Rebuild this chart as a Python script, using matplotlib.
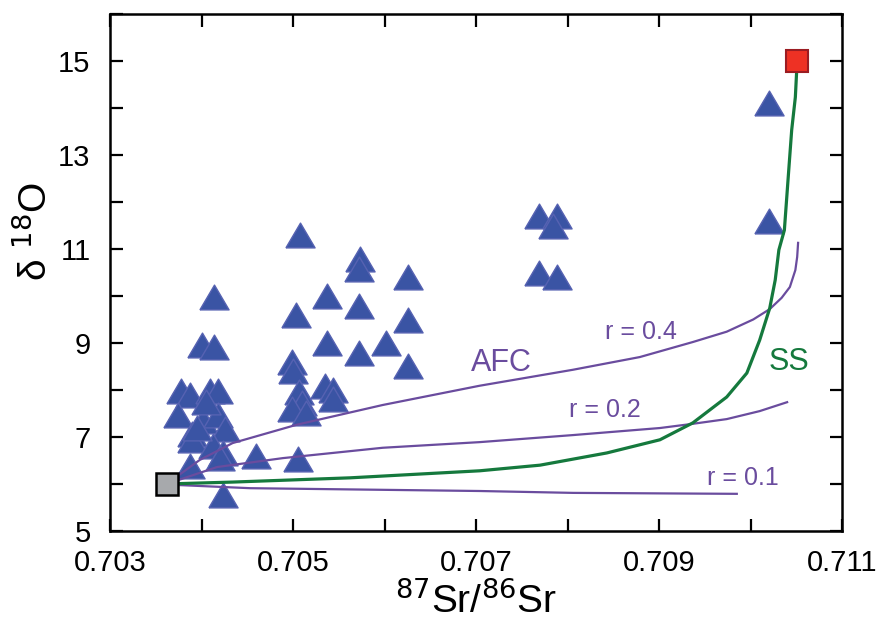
import matplotlib
matplotlib.use("Agg")
from matplotlib import pyplot as plt
from matplotlib.ticker import MultipleLocator

plt.rcParams['font.family'] = ['Liberation Sans', 'DejaVu Sans']

# samples (87Sr/86Sr, d18O)
sample_x = [0.70414, 0.70400, 0.70414, 0.70378, 0.70387, 0.70409, 0.70418,
            0.70374, 0.70402, 0.70418, 0.70390, 0.70426, 0.70390, 0.70413,
            0.70424, 0.70387, 0.70424, 0.70460, 0.70405, 0.70395, 0.70420,
            0.70508, 0.70573, 0.70572, 0.70626, 0.70537, 0.70572, 0.70503,
            0.70626, 0.70537, 0.70572, 0.70602, 0.70626, 0.70499, 0.70500,
            0.70535, 0.70544, 0.70544, 0.70507, 0.70510, 0.70499, 0.70514,
            0.70505,
            0.70769, 0.70789, 0.70784, 0.70769, 0.70789, 0.71020, 0.71020]
sample_y = [9.98, 8.96, 8.92, 7.98, 7.89, 7.98, 7.98,
            7.47, 7.35, 7.47, 7.06, 7.17, 6.94, 6.81,
            6.66, 6.38, 5.77, 6.60, 7.75, 7.20, 6.55,
            11.30, 10.79, 10.57, 10.40, 10.00, 9.79, 9.60,
            9.49, 9.00, 8.79, 9.00, 8.50, 8.60, 8.40,
            8.09, 8.00, 7.80, 7.96, 7.72, 7.60, 7.51,
            6.53,
            11.70, 11.70, 11.49, 10.49, 10.40, 14.10, 11.60]

# end members
mantle = (0.70362, 6.0)
crust = (0.71051, 15.0)

# AFC curves
afc04_x = [0.70362, 0.70371, 0.70398, 0.70434, 0.70504, 0.70598, 0.70704,
           0.70806, 0.70879, 0.70937, 0.70974, 0.71003, 0.71021, 0.71034,
           0.71043, 0.71049, 0.71051, 0.71052]
afc04_y = [6.0, 6.13, 6.51, 6.87, 7.26, 7.68, 8.09,
           8.43, 8.70, 9.02, 9.24, 9.50, 9.72, 9.96,
           10.19, 10.55, 10.83, 11.13]
afc02_x = [0.70362, 0.70417, 0.70489, 0.70598, 0.70704, 0.70806, 0.70901,
           0.70937, 0.70974, 0.71010, 0.71040]
afc02_y = [6.0, 6.36, 6.55, 6.77, 6.89, 7.04, 7.19,
           7.28, 7.38, 7.55, 7.74]
afc01_x = [0.70362, 0.70371, 0.70453, 0.70704, 0.70806, 0.70985]
afc01_y = [6.0, 5.98, 5.91, 5.85, 5.81, 5.79]

# simple source mixing curve
ss_x = [0.70362, 0.70434, 0.70562, 0.70704, 0.70770, 0.70843, 0.70901, 0.70937,
        0.70974, 0.70996, 0.71010, 0.71021, 0.71027, 0.71031, 0.71037,
        0.71041, 0.71045, 0.71049, 0.71051]
ss_y = [6.0, 6.04, 6.13, 6.28, 6.40, 6.66, 6.94, 7.30,
        7.85, 8.36, 9.06, 9.74, 10.34, 10.98, 11.40,
        12.47, 13.53, 14.23, 15.0]

purple = '#6a4c9e'
green = '#15793d'

fig = plt.figure(figsize=(8.76, 6.21), dpi=100)
ax = fig.add_axes([0.1256, 0.145, 0.8356, 0.8325])

tri = [(-1, -0.85), (1, -0.85), (0, 0.85), (-1, -0.85)]
ax.plot(sample_x, sample_y, linestyle='none', marker=tri, markersize=21,
        markerfacecolor='#3a54a4', markeredgecolor='#5662b2', markeredgewidth=1, zorder=2)

ax.plot(afc04_x, afc04_y, color=purple, lw=1.6, zorder=3)
ax.plot(afc02_x, afc02_y, color=purple, lw=1.6, zorder=3)
ax.plot(afc01_x, afc01_y, color=purple, lw=1.6, zorder=3)
ax.plot(ss_x, ss_y, color=green, lw=2.3, zorder=3)

ax.plot(*mantle, marker='s', markersize=16, markerfacecolor='#a7a9ac',
        markeredgecolor='black', markeredgewidth=1.8, zorder=5, clip_on=False)
ax.plot(*crust, marker='s', markersize=16, markerfacecolor='#ee3124',
        markeredgecolor='#9b1c22', markeredgewidth=1.5, zorder=5, clip_on=False)

ax.text(0.70728, 8.57, 'AFC', color=purple, fontsize=22, ha='center', va='center')
ax.text(0.71042, 8.6, 'SS', color=green, fontsize=22, ha='center', va='center')
ax.text(0.70880, 9.23, 'r = 0.4', color=purple, fontsize=18, ha='center', va='center')
ax.text(0.70841, 7.57, 'r = 0.2', color=purple, fontsize=18, ha='center', va='center')
ax.text(0.70992, 6.13, 'r = 0.1', color=purple, fontsize=18, ha='center', va='center')

ax.set_xlim(0.703, 0.711)
ax.set_ylim(5, 16)
ax.xaxis.set_minor_locator(MultipleLocator(0.001))
ax.yaxis.set_minor_locator(MultipleLocator(1))
ax.set_xticks([0.703, 0.705, 0.707, 0.709, 0.711])
ax.set_xticklabels(['0.703', '0.705', '0.707', '0.709', '0.711'])
ax.set_yticks([5, 7, 9, 11, 13, 15])
ax.tick_params(which='both', direction='in', top=True, right=True,
               length=9, width=1.6, labelsize=21)
ax.tick_params(axis='x', pad=13)
ax.tick_params(axis='y', pad=14)
for s in ax.spines.values():
    s.set_linewidth(1.8)

ax.set_xlabel('$^{87}$Sr/$^{86}$Sr', fontsize=28, labelpad=3)
ax.set_ylabel('δ $^{18}$O', fontsize=28)
ax.yaxis.set_label_coords(-0.075, 0.58)

fig.savefig('out.png', dpi=100)
